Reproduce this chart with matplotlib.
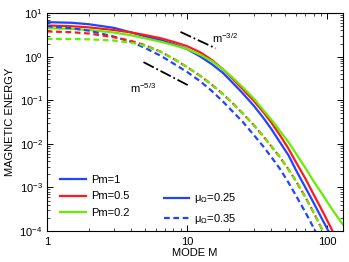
import numpy as np
import matplotlib
matplotlib.use('Agg')
from matplotlib import pyplot as plt
from matplotlib.lines import Line2D
from matplotlib import ticker

plt.rcParams['font.family'] = ['Liberation Sans', 'DejaVu Sans']
plt.rcParams['mathtext.fontset'] = 'custom'
plt.rcParams['mathtext.rm'] = 'Liberation Sans'
plt.rcParams['mathtext.it'] = 'Liberation Sans:italic'
plt.rcParams['mathtext.sf'] = 'Liberation Sans'

modes = [1, 1.5, 2, 3, 4, 5, 6.5, 8, 10, 12.5, 15, 18, 21, 25, 30, 35,
         40, 46, 53, 60, 70, 80, 92, 105, 120, 130]

# mu_Omega = 0.25 (solid)
pm1_mu025 = [6.2, 6.0, 5.55, 4.6, 3.6, 2.95, 2.4, 1.95, 1.5, 1.0, 0.68, 0.43,
             0.26, 0.145, 0.075, 0.04, 0.022, 0.011, 0.0055, 0.0025, 0.0010,
             4.5e-4, 1.9e-4, 8.5e-5, 3.8e-5, 2.4e-5]
pm05_mu025 = [5.2, 5.0, 4.7, 4.1, 3.6, 3.15, 2.65, 2.2, 1.75, 1.25, 0.85, 0.52,
              0.32, 0.18, 0.097, 0.054, 0.031, 0.016, 0.0078, 0.0038, 0.0016,
              7e-4, 3e-4, 1.3e-4, 5.5e-5, 3.3e-5]
pm02_mu025 = [4.5, 4.35, 4.1, 3.6, 3.1, 2.65, 2.2, 1.85, 1.5, 1.1, 0.8, 0.52,
              0.34, 0.2, 0.11, 0.06, 0.036, 0.02, 0.011, 0.006, 0.0028,
              0.0014, 7.2e-4, 3.7e-4, 2.0e-4, 1.4e-4]

# mu_Omega = 0.35 (dashed)
pm1_mu035 = [5.0, 4.5, 3.95, 2.9, 2.2, 1.6, 1.05, 0.7, 0.45, 0.27, 0.165, 0.095,
             0.057, 0.032, 0.016, 0.0088, 0.005, 0.0027, 0.0013, 6.5e-4, 2.7e-4,
             1.2e-4, 5e-5, 2e-5, 8e-6, 5e-6]
pm05_mu035 = [3.8, 3.65, 3.4, 2.8, 2.3, 1.85, 1.3, 0.9, 0.58, 0.36, 0.23, 0.14,
              0.088, 0.05, 0.027, 0.015, 0.0088, 0.005, 0.0026, 0.0014, 6e-4,
              2.7e-4, 1.1e-4, 4.5e-5, 1.8e-5, 1.1e-5]
pm02_mu035 = [2.57, 2.55, 2.5, 2.35, 2.1, 1.8, 1.3, 0.9, 0.58, 0.36, 0.23, 0.14,
              0.088, 0.05, 0.027, 0.015, 0.0088, 0.005, 0.0026, 0.0014, 6e-4,
              2.7e-4, 1.1e-4, 4.5e-5, 1.8e-5, 1.1e-5]

# reference slopes (end points)
slope32_m = [9.0, 16.0]
slope32_e = [3.7, 3.7 * (9.0 / 16.0) ** 1.5]
slope53_m = [4.9, 10.2]
slope53_e = [0.75, 0.75 * (4.9 / 10.2) ** (5.0 / 3.0)]

blue = '#2244ff'
red = '#ff1a1a'
green = '#66ee00'

fig = plt.figure(figsize=(3.49, 2.62), dpi=100)
ax = fig.add_axes([0.134, 0.118, 0.849, 0.832])

lw = 1.6
dash = (0, (2.6, 1.6))
ax.plot(modes, pm1_mu025, color=blue, lw=lw)
ax.plot(modes, pm05_mu025, color=red, lw=lw)
ax.plot(modes, pm02_mu025, color=green, lw=lw)
ax.plot(modes, pm1_mu035, color=blue, lw=lw, linestyle=dash)
ax.plot(modes, pm05_mu035, color=red, lw=lw, linestyle=dash)
ax.plot(modes, pm02_mu035, color=green, lw=lw, linestyle=dash)

ax.plot(slope32_m, slope32_e, color='k', lw=1.3, linestyle='-.')
ax.plot(slope53_m, slope53_e, color='k', lw=1.3, linestyle='-.')
ax.text(15.2, 2.05, r'm$^{-3/2}$', fontsize=8, va='baseline', ha='left')
ax.text(3.94, 0.146, r'm$^{-5/3}$', fontsize=8, va='baseline', ha='left')

ax.set_xscale('log')
ax.set_yscale('log')
ax.set_xlim(1, 130)
ax.set_ylim(1e-4, 10)
ax.set_xticks([1, 10, 100])
ax.xaxis.set_major_formatter(ticker.FixedFormatter(['1', '10', '100']))
ax.yaxis.set_major_locator(ticker.LogLocator(base=10, numticks=10))
ax.yaxis.set_minor_locator(ticker.LogLocator(base=10, subs=np.arange(2, 10), numticks=10))
ax.tick_params(which='both', direction='in', top=True, right=True, labelsize=8)
ax.tick_params(which='major', length=4, width=0.7)
ax.tick_params(which='minor', length=2, width=0.5)
ax.tick_params(axis='x', pad=4)
ax.tick_params(axis='y', pad=3)
for s in ax.spines.values():
    s.set_linewidth(0.8)

ax.set_xlabel('MODE M', fontsize=8, labelpad=1)
ax.set_ylabel('MAGNETIC ENERGY', fontsize=8, labelpad=3)

handles = [
    Line2D([], [], color=blue, lw=lw),
    Line2D([], [], color=red, lw=lw),
    Line2D([], [], color=green, lw=lw),
    Line2D([], [], color='none'),
    Line2D([], [], color=blue, lw=lw),
    Line2D([], [], color=blue, lw=lw, linestyle=dash),
]
labels = ['Pm=1', 'Pm=0.5', 'Pm=0.2', '', 'μ$_\\Omega$=0.25', 'μ$_\\Omega$=0.35']
ax.legend(handles, labels, ncol=2, frameon=False, fontsize=8,
          loc='lower left', bbox_to_anchor=(0.03, 0.005),
          handlelength=2.3, handletextpad=0.45, labelspacing=0.55,
          columnspacing=3.1, borderaxespad=0.0)

fig.savefig('out.png', dpi=100)
